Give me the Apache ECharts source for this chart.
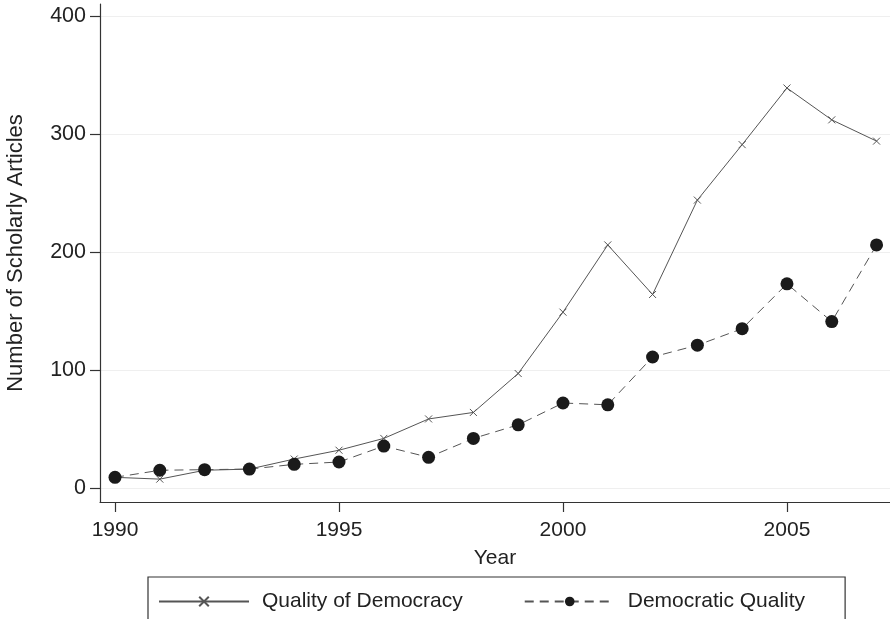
<!DOCTYPE html>
<html>
<head>
<meta charset="utf-8">
<script src="https://cdn.jsdelivr.net/npm/echarts@6/dist/echarts.min.js"></script>
<style>
html,body{margin:0;padding:0;background:#fff;}
#chart{width:890px;height:619px;}
</style>
</head>
<body>
<div id="chart"></div>
<script>
const years = [1990,1991,1992,1993,1994,1995,1996,1997,1998,1999,2000,2001,2002,2003,2004,2005,2006,2007];
const qualityOfDemocracy = [9,7.5,15,16,24.5,32,42,58.5,64,97,149,206,164,244,291,339,312,294];
const democraticQuality = [9,15,15.5,16,20,22,35.5,26,42,53.5,72,70.5,111,121,135,173,141,206];
const xTicks = [1990,1995,2000,2005];
const yTicks = [0,100,200,300,400];

const FONT = '"Liberation Sans", Arial, Helvetica, sans-serif';
const TXT = '#222';

const pairs = (xs, ys) => xs.map((x, i) => [x, ys[i]]);

const chart = echarts.init(document.getElementById('chart'), null, {renderer: 'canvas'});
chart.setOption({
  animation: false,
  backgroundColor: '#ffffff',
  grid: {left: 100, right: 0, top: 4, bottom: 117, containLabel: false, outerBoundsMode: 'none'},
  xAxis: {
    type: 'value',
    min: 1989.665,
    max: 2007.3,
    name: 'Year',
    nameLocation: 'middle',
    nameGap: 46,
    nameTextStyle: {fontFamily: FONT, fontSize: 21, color: TXT},
    axisLine: {show: true, onZero: false, lineStyle: {color: '#333', width: 1.2}},
    axisTick: {show: true, inside: false, length: 10, customValues: xTicks, lineStyle: {color: '#333', width: 1.2}},
    axisLabel: {customValues: xTicks, margin: 18, fontFamily: FONT, fontSize: 21, color: TXT, formatter: v => String(v)},
    splitLine: {show: false}
  },
  yAxis: {
    type: 'value',
    min: -11.9,
    max: 410.2,
    name: 'Number of Scholarly Articles',
    nameLocation: 'middle',
    nameGap: 73,
    nameTextStyle: {fontFamily: FONT, fontSize: 22, color: TXT},
    axisLine: {show: true, onZero: false, lineStyle: {color: '#333', width: 1.2}},
    axisTick: {show: true, length: 10, customValues: yTicks, lineStyle: {color: '#333', width: 1.2}},
    axisLabel: {customValues: yTicks, margin: 14, fontFamily: FONT, fontSize: 21.5, color: TXT},
    splitLine: {show: true, lineStyle: {color: '#efefef', width: 1.2}}
  },
  legend: {
    show: true,
    left: 148,
    top: 577,
    orient: 'horizontal',
    borderColor: '#333',
    borderWidth: 1.2,
    padding: [14, 40, 30, 10],
    itemGap: 61,
    itemWidth: 90,
    itemHeight: 12,
    textStyle: {fontFamily: FONT, fontSize: 21, color: TXT, padding: [0, 0, 0, 8]},
    data: ['Quality of Democracy', 'Democratic Quality']
  },
  series: [
    {
      name: 'Quality of Democracy',
      type: 'line',
      data: pairs(years, qualityOfDemocracy),
      symbol: 'path://M0,0 L10,10 M10,0 L0,10',
      symbolSize: 7,
      showAllSymbol: true,
      lineStyle: {color: '#555', width: 1, type: 'solid'},
      itemStyle: {color: 'transparent', borderColor: '#555', borderWidth: 1},
      z: 2
    },
    {
      name: 'Democratic Quality',
      type: 'line',
      data: pairs(years, democraticQuality),
      symbol: 'circle',
      symbolSize: 13,
      showAllSymbol: true,
      lineStyle: {color: '#555', width: 1, type: [9, 6]},
      itemStyle: {color: '#1a1a1a', borderWidth: 0},
      z: 3
    }
  ]
});
</script>
</body>
</html>
